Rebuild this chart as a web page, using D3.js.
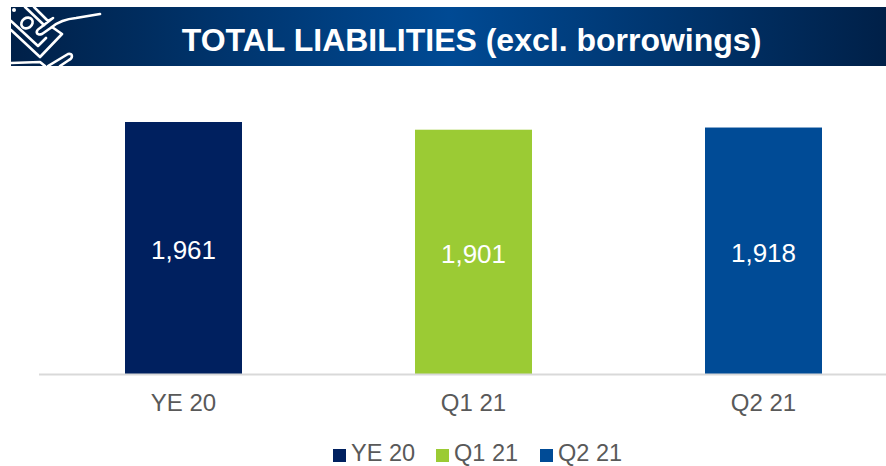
<!DOCTYPE html>
<html>
<head>
<meta charset="utf-8">
<script src="https://cdn.jsdelivr.net/npm/d3@7"></script>
<style>
  html, body { margin: 0; padding: 0; background: #fff; }
  svg { display: block; }
  text { font-family: "Liberation Sans", Arial, sans-serif; }
</style>
</head>
<body>
<svg id="chart" width="886" height="466"></svg>
<script>
var title = "TOTAL LIABILITIES (excl. borrowings)";
var categories = ["YE 20", "Q1 21", "Q2 21"];
var values = [1961, 1901, 1918];
var valueLabels = ["1,961", "1,901", "1,918"];
var colors = ["#00205f", "#9bcb34", "#004b96"];

var width = 886, height = 466;
var baseline = 374;

var svg = d3.select("#chart");

// banner
var grad = svg.append("defs").append("linearGradient")
    .attr("id", "banner")
    .attr("x1", "0%").attr("x2", "100%").attr("y1", "0%").attr("y2", "0%");
grad.append("stop").attr("offset", "0%").attr("stop-color", "#002048");
grad.append("stop").attr("offset", "50%").attr("stop-color", "#004a94");
grad.append("stop").attr("offset", "100%").attr("stop-color", "#002048");

svg.append("rect")
    .attr("x", 11).attr("y", 7)
    .attr("width", width - 11).attr("height", 59)
    .attr("fill", "url(#banner)");

svg.append("text")
    .attr("x", 471.5).attr("y", 51)
    .attr("text-anchor", "middle")
    .attr("font-size", 32)
    .attr("font-weight", "bold")
    .attr("fill", "#fff")
    .text(title);

// hand and banknote icon, clipped to the banner
svg.select("defs").append("clipPath").attr("id", "iconClip")
    .append("rect").attr("x", 11).attr("y", 7).attr("width", 100).attr("height", 59);
var icon = svg.append("g")
    .attr("clip-path", "url(#iconClip)")
    .attr("fill", "none")
    .attr("stroke", "#fff")
    .attr("stroke-width", 2.6)
    .attr("stroke-linecap", "round")
    .attr("stroke-linejoin", "round");
var iconPaths = [
  "M11,30 L40,57 L62,34 L52,27",
  "M11,21 L38,46 L46,38",
  "M25,7 L44,25",
  "M34,7 L48,21 L53,18 L40,28 C35,31 36,36 42,34 L52,27 C58,22 66,19 76,18 L100,14",
  "M48,66 L68,54 C73,53 73,58 69,60 L60,66",
  "M11,63 L40,62 L45,66"
];
icon.selectAll("path").data(iconPaths).enter().append("path").attr("d", function(d) { return d; });
icon.append("ellipse")
    .attr("cx", 27).attr("cy", 23).attr("rx", 6).attr("ry", 5)
    .attr("transform", "rotate(-35 27 23)");
icon.append("circle")
    .attr("cx", 14).attr("cy", 10).attr("r", 2)
    .attr("fill", "#fff").attr("stroke", "none");

// scales
var x = d3.scaleBand()
    .domain(categories)
    .range([38.5, 908.5]);

var y = d3.scaleLinear()
    .domain([0, 1961])
    .range([baseline, 122]);

var barWidth = 117;

svg.selectAll("rect.bar")
    .data(values)
    .enter().append("rect")
    .attr("class", "bar")
    .attr("x", function(d, i) { return x(categories[i]) + x.bandwidth() / 2 - barWidth / 2; })
    .attr("y", function(d) { return y(d); })
    .attr("width", barWidth)
    .attr("height", function(d) { return baseline - y(d); })
    .attr("fill", function(d, i) { return colors[i]; });

svg.selectAll("text.value")
    .data(values)
    .enter().append("text")
    .attr("class", "value")
    .attr("x", function(d, i) { return x(categories[i]) + x.bandwidth() / 2; })
    .attr("y", function(d) { return (y(d) + baseline) / 2 + 11; })
    .attr("text-anchor", "middle")
    .attr("font-size", 26)
    .attr("fill", "#fff")
    .text(function(d, i) { return valueLabels[i]; });

// x axis
var axis = svg.append("g")
    .attr("transform", "translate(0," + baseline + ")")
    .call(d3.axisBottom(x).tickSize(0).tickPadding(20));
axis.select(".domain").attr("stroke", "#d9d9d9").attr("stroke-width", 2);
axis.selectAll("text")
    .attr("font-size", 24)
    .attr("font-family", '"Liberation Sans", Arial, sans-serif')
    .attr("fill", "#595959");

// legend
var legendX = [333, 436, 540];
var legend = svg.selectAll("g.legend")
    .data(categories)
    .enter().append("g")
    .attr("class", "legend")
    .attr("transform", function(d, i) { return "translate(" + legendX[i] + ",449)"; });
legend.append("rect")
    .attr("width", 13).attr("height", 13)
    .attr("fill", function(d, i) { return colors[i]; });
legend.append("text")
    .attr("x", 18).attr("y", 12)
    .attr("font-size", 23.5)
    .attr("fill", "#595959")
    .text(function(d) { return d; });
</script>
</body>
</html>
